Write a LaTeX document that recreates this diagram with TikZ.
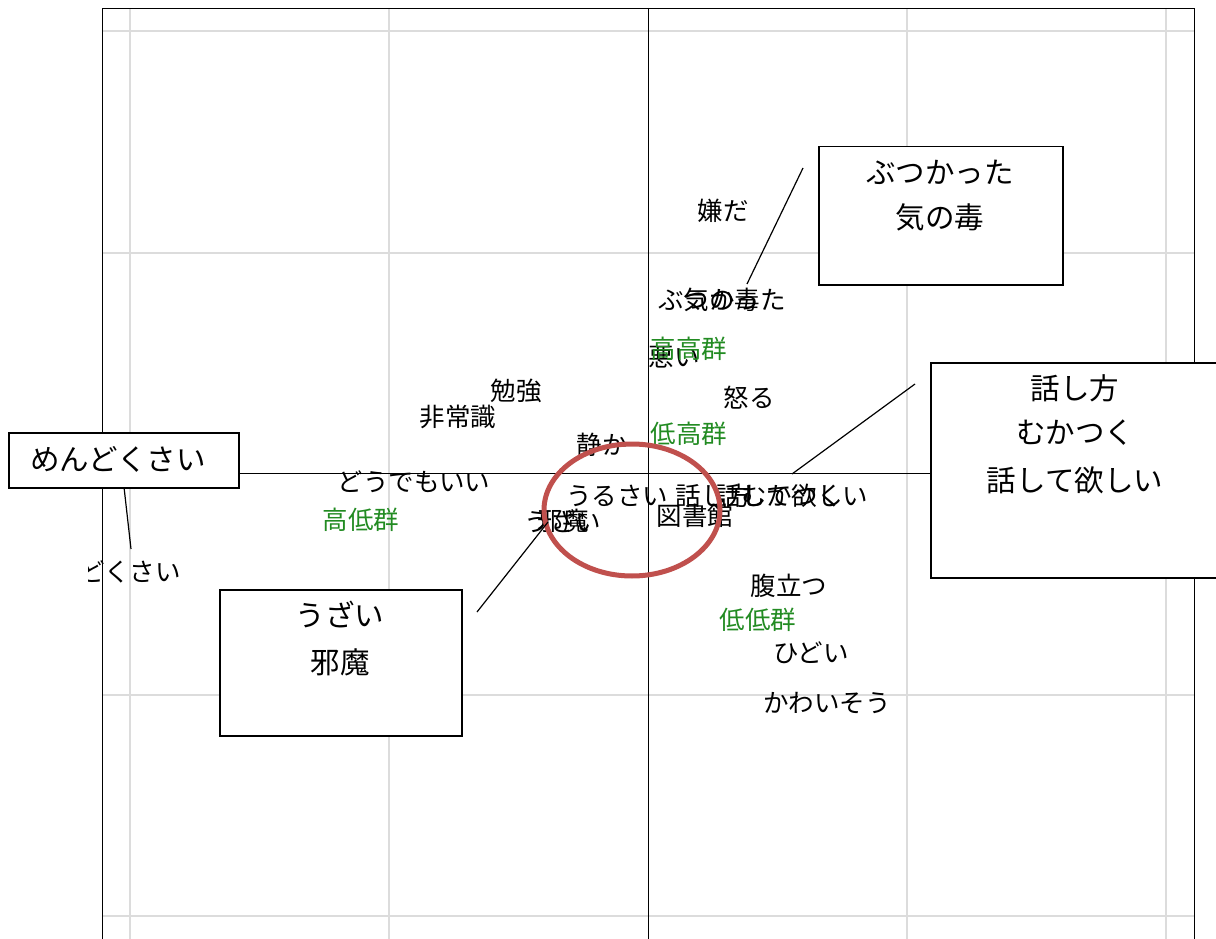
\documentclass[tikz,border=0pt]{standalone}
\usepackage{fontspec}
\newfontfamily\cjk{Noto Sans CJK JP}
\definecolor{grp}{RGB}{34,139,34}
\definecolor{ring}{RGB}{192,80,77}
\definecolor{gridc}{RGB}{220,220,220}
\begin{document}
\begin{tikzpicture}[x=1pt,y=-1pt,
  lbl/.style={font=\cjk\fontsize{25.5}{28}\selectfont, inner sep=0pt},
  grplbl/.style={lbl, text=grp},
  boxtxt/.style={font=\cjk\fontsize{29.5}{32}\selectfont, inner sep=0pt},
  framebox/.style={draw, fill=white, line width=1.5pt, inner sep=0pt, anchor=north west},
  leader/.style={draw, line width=1.2pt},
  gridline/.style={draw=gridc, line width=1.2pt},
  axisline/.style={draw, line width=0.9pt}]
\useasboundingbox (0,0) rectangle (1216,939);
\clip (0,0) rectangle (1216,939);
% grid
\foreach \x in {130,389,907,1166} \draw[gridline] (\x,8) -- (\x,939);
\foreach \y in {31,253,695,916} \draw[gridline] (102,\y) -- (1194,\y);
% axes and frame
\draw[axisline] (648,8) -- (648,939);
\draw[axisline] (102,473) -- (1194,473);
\draw[axisline] (102,939) -- (102,8) -- (1194,8) -- (1194,939);
% word labels
\node[lbl] (w1) at (723,211) {嫌だ};
\node[lbl] (w2) at (722,300) {ぶつかった};
\node[lbl] (w3) at (722,300) {気の毒};
\node[lbl] (w4) at (674,357) {悪い};
\node[grplbl] (g1) at (689,349) {高高群};
\node[lbl] (w5) at (749,398) {怒る};
\node[grplbl] (g2) at (689,434) {低高群};
\node[lbl] (w6) at (602,445) {静か};
\node[lbl] (w7) at (516,391) {勉強};
\node[lbl] (w8) at (458,417) {非常識};
\node[lbl] (w9) at (414,482) {どうでもいい};
\node[grplbl] (g3) at (361,520) {高低群};
\node[lbl] (w10) at (563,521) {うざい};
\node[lbl] (w11) at (563,521) {邪魔};
\node[lbl] (w12) at (617,496) {うるさい};
\node[lbl] (w13) at (714,496) {話し方};
\node[lbl] (w14) at (792,496) {むかつく};
\node[lbl] (w15) at (792,496) {話して欲しい};
\node[lbl] (w16) at (695,516) {図書館};
\node[lbl] (w17) at (789,586) {腹立つ};
\node[grplbl] (g4) at (758,620) {低低群};
\node[lbl] (w18) at (811,653) {ひどい};
\node[lbl] (w19) at (827,703) {かわいそう};
\begin{scope}
\clip (88,0) rectangle (1216,939);
\node[lbl] (w20) at (105,572) {めんどくさい};
\end{scope}
% ring
\draw[ring, line width=5pt] (632,510) ellipse [x radius=88pt, y radius=66pt];
% leader ends
\coordinate (c1a) at (747,284);
\coordinate (c1b) at (803,168);
\coordinate (c2a) at (792,474);
\coordinate (c2b) at (915,384);
\coordinate (c3a) at (477,612);
\coordinate (c3b) at (548,522);
\coordinate (c4a) at (124,487);
\coordinate (c4b) at (131,549);
\draw[leader] (c1a) -- (c1b);
\draw[leader] (c2a) -- (c2b);
\draw[leader] (c3a) -- (c3b);
\draw[leader] (c4a) -- (c4b);
% callout boxes
\node[framebox, minimum width=244pt, minimum height=138pt] (b1) at (818,146) {};
\node[boxtxt] (b1t1) at (940,172) {ぶつかった};
\node[boxtxt] (b1t2) at (940,217) {気の毒};
\node[framebox, minimum width=320pt, minimum height=215pt] (b2) at (930,362) {};
\node[boxtxt] (b2t1) at (1075,388) {話し方};
\node[boxtxt] (b2t2) at (1075,433) {むかつく};
\node[boxtxt] (b2t3) at (1075,480) {話して欲しい};
\node[framebox, minimum width=242pt, minimum height=146pt] (b3) at (219,589) {};
\node[boxtxt] (b3t1) at (340,615) {うざい};
\node[boxtxt] (b3t2) at (340,662) {邪魔};
\node[framebox, minimum width=230pt, minimum height=55pt] (b4) at (8,432) {};
\node[boxtxt] (b4t1) at (118,459) {めんどくさい};
\end{tikzpicture}
\end{document}
